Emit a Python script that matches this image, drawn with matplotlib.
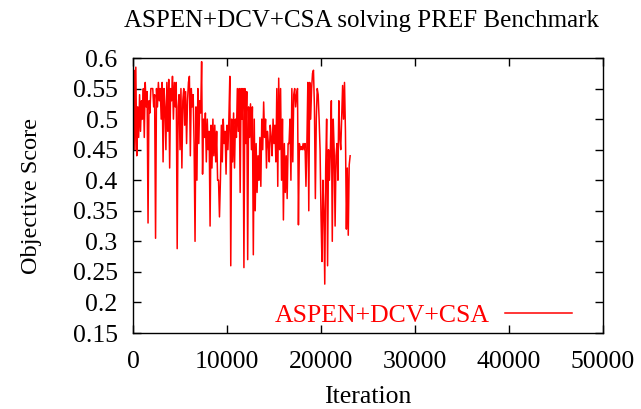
import numpy as np
import matplotlib
matplotlib.use("Agg")
import matplotlib.pyplot as plt

plt.rcParams['font.family'] = ['Liberation Serif', 'DejaVu Serif']

step = 100
scores = [
    0.50, 0.58, 0.45, 0.585, 0.44, 0.52, 0.47, 0.54, 0.48, 0.53,
    0.50, 0.55, 0.47, 0.56, 0.52, 0.545, 0.33, 0.53, 0.51, 0.55,
    0.55, 0.55, 0.52, 0.54, 0.305, 0.55, 0.52, 0.56, 0.53, 0.55,
    0.50, 0.56, 0.43, 0.55, 0.52, 0.45, 0.56, 0.48, 0.565, 0.42,
    0.55, 0.53, 0.57, 0.50, 0.56, 0.52, 0.56, 0.288, 0.52, 0.54,
    0.45, 0.55, 0.42, 0.53, 0.55, 0.49, 0.545, 0.46, 0.53, 0.56,
    0.57, 0.44, 0.55, 0.52, 0.54, 0.46, 0.30, 0.52, 0.40, 0.55,
    0.46, 0.53, 0.51, 0.594, 0.41, 0.50, 0.47, 0.51, 0.43, 0.50,
    0.45, 0.48, 0.325, 0.49, 0.42, 0.50, 0.44, 0.49, 0.43, 0.48,
    0.40, 0.40, 0.34, 0.40, 0.49, 0.43, 0.50, 0.46, 0.48, 0.41,
    0.49, 0.45, 0.50, 0.57, 0.26, 0.50, 0.43, 0.51, 0.42, 0.50,
    0.47, 0.55, 0.48, 0.55, 0.38, 0.55, 0.50, 0.55, 0.257, 0.55,
    0.46, 0.545, 0.27, 0.52, 0.47, 0.525, 0.45, 0.52, 0.278, 0.50,
    0.35, 0.46, 0.38, 0.44, 0.40, 0.47, 0.39, 0.50, 0.45, 0.528,
    0.47, 0.50, 0.42, 0.48, 0.46, 0.43, 0.49, 0.47, 0.44, 0.50,
    0.46, 0.49, 0.43, 0.55, 0.39, 0.567, 0.45, 0.55, 0.40, 0.50,
    0.335, 0.46, 0.38, 0.44, 0.37, 0.46, 0.46, 0.50, 0.40, 0.55,
    0.43, 0.54, 0.55, 0.52, 0.54, 0.55, 0.327, 0.46, 0.45, 0.455,
    0.45, 0.46, 0.45, 0.46, 0.39, 0.46, 0.56, 0.35, 0.56, 0.50,
    0.55, 0.575, 0.58, 0.52, 0.37, 0.50, 0.55, 0.54, 0.50, 0.45,
    0.343, 0.267, 0.40, 0.35, 0.23, 0.42, 0.50, 0.26, 0.45, 0.40,
    0.45, 0.53, 0.30, 0.50, 0.45, 0.325, 0.44, 0.46, 0.40, 0.53,
    0.47, 0.45, 0.50, 0.555, 0.50, 0.56, 0.48, 0.32, 0.42, 0.31,
    0.425, 0.44,
]
iterations = np.arange(len(scores)) * step

title = "ASPEN+DCV+CSA solving PREF Benchmark"
series_name = "ASPEN+DCV+CSA"
xticks = [0, 10000, 20000, 30000, 40000, 50000]
yticks = [0.15, 0.2, 0.25, 0.3, 0.35, 0.4, 0.45, 0.5, 0.55, 0.6]

fs = 18.5
fig = plt.figure(figsize=(6.41, 4.09), dpi=100)
ax = fig.add_axes([133/641, 1-333/409, 470/641, 275/409])
ax.plot(iterations, scores, color='red', lw=1.1, label=series_name)
ax.set_xlim(0, 50000)
ax.set_ylim(0.15, 0.6)
ax.set_xticks(xticks)
ax.set_xticklabels([str(t) for t in xticks])
ax.set_yticks(yticks)
ax.set_yticklabels([f"{t:g}" for t in yticks])
ax.tick_params(direction='in', length=6, width=1, top=True, right=True,
               labelsize=fs, colors='black')
ax.tick_params(axis='x', pad=13)
ax.tick_params(axis='y', pad=11)
for s in ax.spines.values():
    s.set_linewidth(1)
ax.set_title(title, fontsize=18, pad=22, x=0.487)
ax.set_xlabel("Iteration", fontsize=fs, labelpad=9)
ax.set_ylabel("Objective Score", fontsize=17.5, labelpad=22)
leg = ax.legend(loc='center right', bbox_to_anchor=(0.956, 0.065), frameon=False,
                markerfirst=False, labelcolor='red', fontsize=fs,
                handlelength=2.6, handletextpad=0.6, borderaxespad=0)
fig.savefig("out.png", dpi=100)
